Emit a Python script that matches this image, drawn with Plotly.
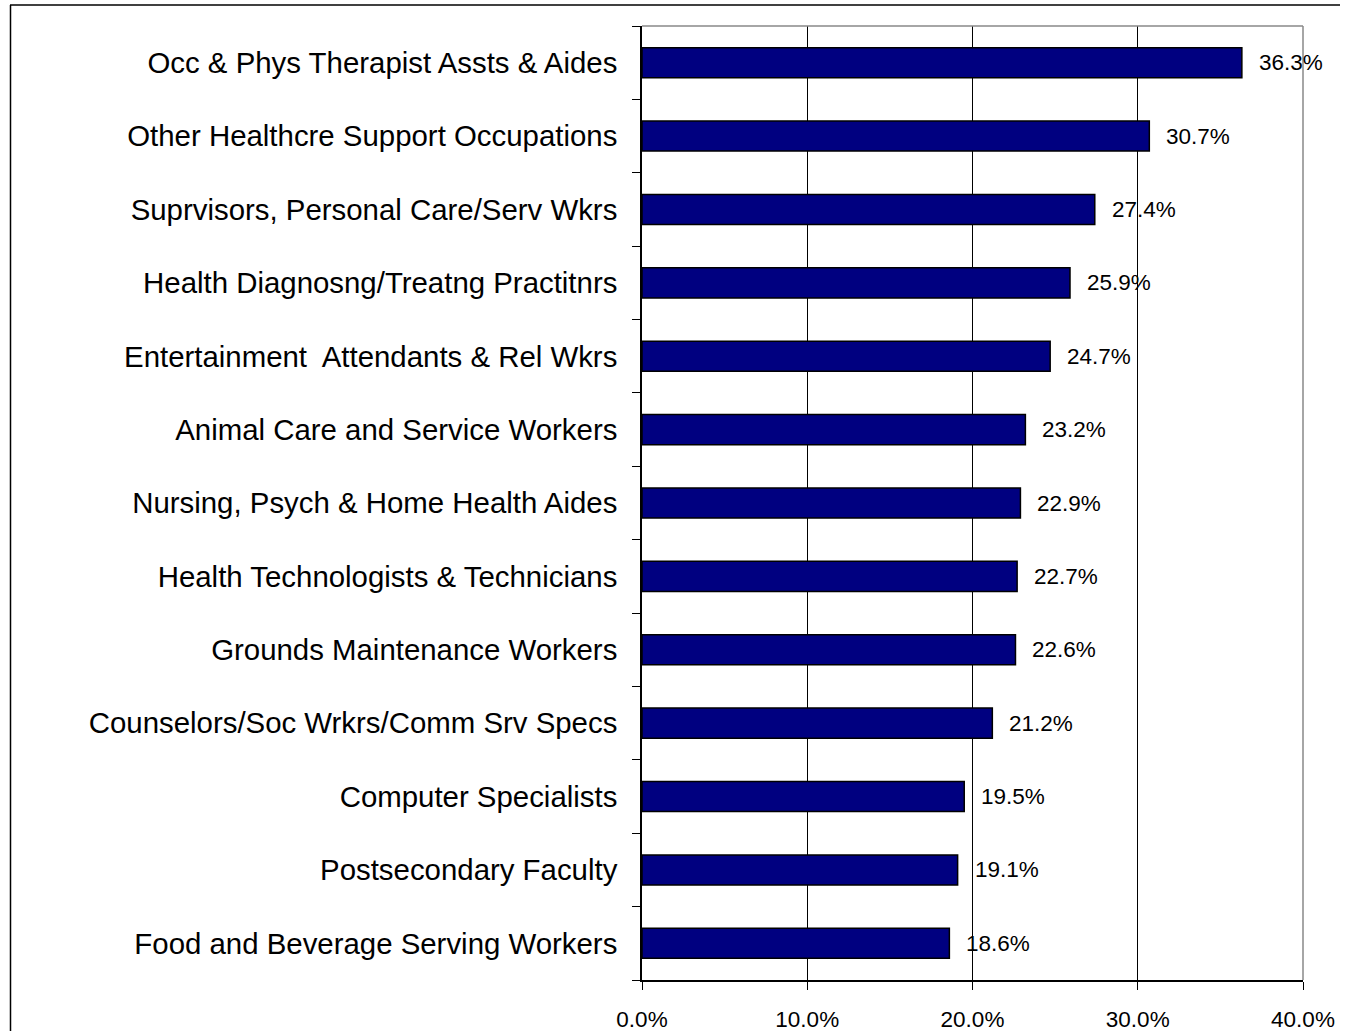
import plotly.graph_objects as go

categories = [
    "Occ & Phys Therapist Assts & Aides",
    "Other Healthcre Support Occupations",
    "Suprvisors, Personal Care/Serv Wkrs",
    "Health Diagnosng/Treatng Practitnrs",
    "Entertainment  Attendants & Rel Wkrs",
    "Animal Care and Service Workers",
    "Nursing, Psych & Home Health Aides",
    "Health Technologists & Technicians",
    "Grounds Maintenance Workers",
    "Counselors/Soc Wrkrs/Comm Srv Specs",
    "Computer Specialists",
    "Postsecondary Faculty",
    "Food and Beverage Serving Workers",
]
values = [36.3, 30.7, 27.4, 25.9, 24.7, 23.2, 22.9, 22.7, 22.6, 21.2, 19.5, 19.1, 18.6]
x_ticks = [0, 10, 20, 30, 40]
x_tick_labels = ["0.0%", "10.0%", "20.0%", "30.0%", "40.0%"]

W, H = 1345, 1031
L, R, T, B = 642, 42, 26, 51
pw = W - L - R
ph = H - T - B
FONT = "Liberation Sans, Arial"

fig = go.Figure()
fig.add_trace(go.Bar(
    x=values, y=categories, orientation="h",
    marker=dict(color="#000080", line=dict(color="black", width=1.5)),
    width=0.41,
    hoverinfo="skip",
))

for c, v in zip(categories, values):
    fig.add_annotation(x=v, y=c, text=f"{v:.1f}%", showarrow=False,
                       xanchor="left", yanchor="middle", xshift=15,
                       font=dict(family=FONT, size=22.5, color="black"))

def px(xp):
    return (xp - L) / pw
def py(yp):
    return 1 - (yp - T) / ph

# outer border (top and left lines)
fig.add_shape(type="line", xref="paper", yref="paper",
              x0=px(10), x1=px(1340), y0=py(5), y1=py(5),
              line=dict(color="black", width=1.5))
fig.add_shape(type="line", xref="paper", yref="paper",
              x0=px(10.5), x1=px(10.5), y0=py(5), y1=py(1031),
              line=dict(color="black", width=1.5))
# right/top plot border (grey)
fig.add_shape(type="line", xref="paper", yref="paper",
              x0=1, x1=1, y0=0, y1=1, line=dict(color="#888888", width=1.5))
fig.add_shape(type="line", xref="paper", yref="paper",
              x0=0, x1=1, y0=1, y1=1, line=dict(color="#888888", width=1.5))

fig.update_layout(
    width=W, height=H,
    margin=dict(l=L, r=R, t=T, b=B, pad=0, autoexpand=False),
    paper_bgcolor="white", plot_bgcolor="white",
    showlegend=False,
    font=dict(family=FONT, color="black"),
)
fig.update_xaxes(
    range=[0, 40], tickvals=x_ticks, ticktext=x_tick_labels,
    showgrid=True, gridcolor="black", gridwidth=1,
    zeroline=False, automargin=False,
    showline=True, linecolor="black", linewidth=1.5,
    ticks="outside", ticklen=8, tickcolor="black",
    ticklabelstandoff=10,
    tickfont=dict(size=22.5, family=FONT, color="black"),
    fixedrange=True,
)
fig.update_yaxes(
    categoryorder="array", categoryarray=categories[::-1],
    autorange=False, range=[-0.5, len(categories) - 0.5],
    showgrid=False, zeroline=False, automargin=False,
    showline=True, linecolor="black", linewidth=1.5,
    ticks="outside", tickson="boundaries", ticklen=8, tickcolor="black",
    ticklabelstandoff=17,
    tickfont=dict(size=29.4, family=FONT, color="black"),
    fixedrange=True,
)

fig.write_html("out.html", config={"displayModeBar": False},
               post_script="document.body.style.margin='0';document.body.style.overflow='hidden';")
